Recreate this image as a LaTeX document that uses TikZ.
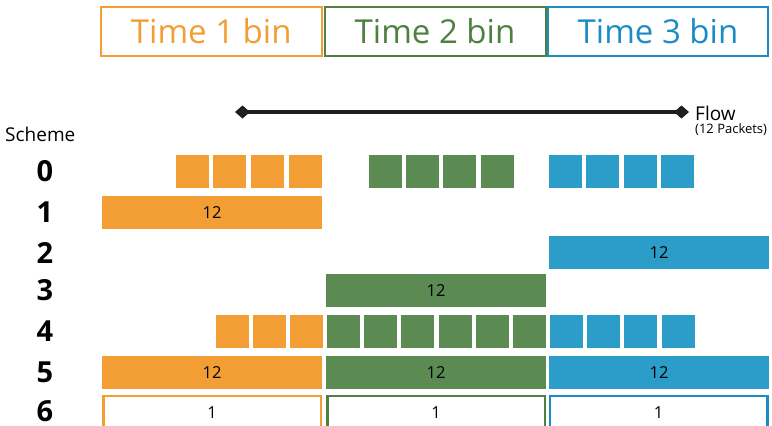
\documentclass[tikz,border=0pt]{standalone}
\usepackage{fontspec}
\setmainfont{Open Sans}
\usetikzlibrary{arrows.meta}
\definecolor{orf}{RGB}{242,158,53}
\definecolor{grf}{RGB}{91,138,82}
\definecolor{blf}{RGB}{44,156,200}
\definecolor{ort}{RGB}{242,158,53}
\definecolor{grt}{RGB}{78,128,64}
\definecolor{blt}{RGB}{28,141,196}
\tikzset{
  hdr/.style={draw=#1, text=#1, line width=2pt, minimum height=49pt, inner sep=0pt, font=\fontsize{33}{33}\selectfont},
  bar/.style={fill=#1, minimum height=33pt, inner sep=0pt, font=\fontsize{16.5}{16.5}\selectfont},
  obox/.style={draw=#1, line width=2.5pt, fill=white, inner sep=0pt, font=\fontsize{16.5}{16.5}\selectfont},
  rowlbl/.style={font=\fontsize{29}{29}\selectfont\bfseries, inner sep=0pt},
  sq/.style={fill=#1},
}
\begin{document}
\begin{tikzpicture}[x=1pt,y=-1pt]
\useasboundingbox (0,0) rectangle (772,426);
% headers
\node[hdr=ort, minimum width=221pt] (h1) at (211.25,31) {Time 1 bin};
\node[hdr=grt, minimum width=221pt] (h2) at (435,31) {Time 2 bin};
\node[hdr=blt, minimum width=220pt] (h3) at (658,31) {Time 3 bin};
% flow
\coordinate (fl) at (235,112);
\coordinate (fr) at (689,112);
\draw[line width=4.5pt, color=black!88, {Diamond[length=15pt,width=13pt]}-{Diamond[length=15pt,width=13pt]}] (fl) -- (fr);
\node[anchor=base west, inner sep=0pt, font=\fontsize{19}{19}\selectfont] (flow) at (695,120) {Flow};
\node[anchor=base west, inner sep=0pt, font=\fontsize{13}{13}\selectfont] (pk) at (695,133.5) {(12 Packets)};
% scheme labels
\node[anchor=base west, inner sep=0pt, font=\fontsize{19}{19}\selectfont] (sch) at (5,141) {Scheme};
\foreach \i/\y in {0/171.5,1/212.5,2/252.5,3/290.5,4/331.5,5/372.5,6/411.5}
  \node[rowlbl] (r\i) at (45,\y) {\i};
% row 0
\foreach \x in {176,213,251,289} \fill[sq=orf] (\x,155) rectangle ++(33,33);
\foreach \x in {369,406,443,481} \fill[sq=grf] (\x,155) rectangle ++(33,33);
\foreach \x in {549,586,624,661} \fill[sq=blf] (\x,155) rectangle ++(33,33);
% row 1
\node[bar=orf, minimum width=220pt] (b1) at (212,212.5) {12};
% row 2
\node[bar=blf, minimum width=220pt] (b2) at (659,252.5) {12};
% row 3
\node[bar=grf, minimum width=220pt] (b3) at (436,290.5) {12};
% row 4
\foreach \x in {216,253,290} \fill[sq=orf] (\x,315) rectangle ++(33,33);
\foreach \x in {327,364,401,439,476,513} \fill[sq=grf] (\x,315) rectangle ++(33,33);
\foreach \x in {550,587,624,662} \fill[sq=blf] (\x,315) rectangle ++(33,33);
% row 5
\node[bar=orf, minimum width=220pt] (b5a) at (212,372.5) {12};
\node[bar=grf, minimum width=220pt] (b5b) at (436,372.5) {12};
\node[bar=blf, minimum width=220pt] (b5c) at (659,372.5) {12};
% row 6
\node[obox=orf, minimum width=217.5pt, minimum height=34pt] (b6a) at (212,413) {1};
\node[obox=grt, minimum width=217.5pt, minimum height=34pt] (b6b) at (436,413) {1};
\node[obox=blt, minimum width=217.5pt, minimum height=34pt] (b6c) at (658.5,413) {1};
\end{tikzpicture}
\end{document}
